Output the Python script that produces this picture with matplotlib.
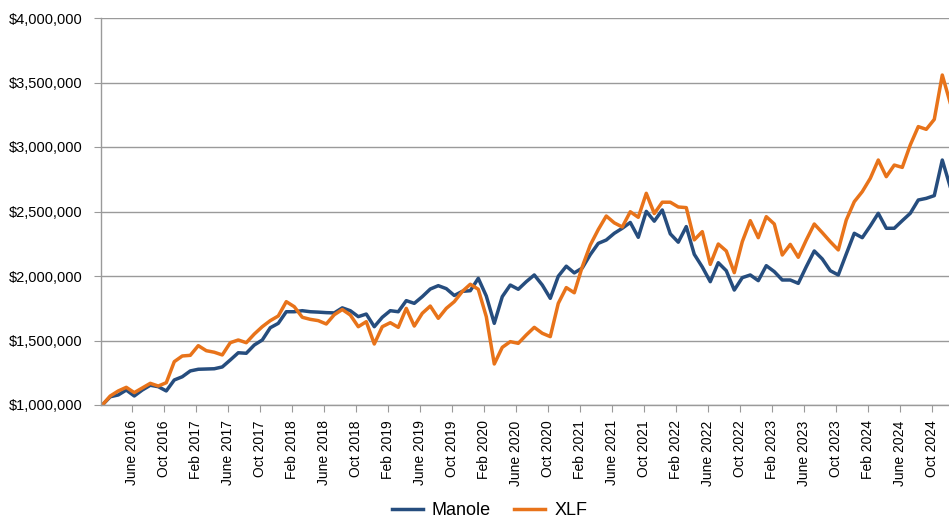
import numpy as np
import pandas as pd
import matplotlib
matplotlib.use('Agg')
import matplotlib.pyplot as plt
from matplotlib.ticker import FuncFormatter

# monthly values, Feb 2016 .. Dec 2024, in $ millions
months = pd.date_range('2016-02-01', '2024-12-01', freq='MS')

manole = [1.000, 1.064, 1.078, 1.116, 1.070, 1.116, 1.153, 1.142, 1.109, 1.194,
          1.219, 1.264, 1.277, 1.279, 1.281, 1.295, 1.349, 1.405, 1.401, 1.465,
          1.504, 1.599, 1.633, 1.723, 1.723, 1.731, 1.723, 1.720, 1.716, 1.714,
          1.753, 1.731, 1.685, 1.705, 1.607, 1.680, 1.731, 1.723, 1.809, 1.788,
          1.840, 1.899, 1.925, 1.902, 1.849, 1.881, 1.886, 1.982, 1.845, 1.633,
          1.840, 1.930, 1.897, 1.956, 2.008, 1.930, 1.827, 1.998, 2.076, 2.024,
          2.062, 2.166, 2.253, 2.279, 2.331, 2.370, 2.415, 2.300, 2.501, 2.425,
          2.512, 2.327, 2.262, 2.383, 2.168, 2.070, 1.956, 2.103, 2.041, 1.891,
          1.987, 2.008, 1.964, 2.080, 2.034, 1.969, 1.969, 1.943, 2.072, 2.194,
          2.132, 2.041, 2.008, 2.171, 2.331, 2.297, 2.388, 2.486, 2.370, 2.370,
          2.429, 2.486, 2.589, 2.602, 2.623, 2.899, 2.690]

xlf = [1.000, 1.070, 1.109, 1.137, 1.096, 1.132, 1.168, 1.147, 1.173, 1.336,
       1.380, 1.385, 1.460, 1.421, 1.409, 1.388, 1.483, 1.504, 1.483, 1.550,
       1.607, 1.654, 1.690, 1.801, 1.762, 1.680, 1.664, 1.654, 1.628, 1.700,
       1.740, 1.698, 1.607, 1.646, 1.473, 1.607, 1.638, 1.602, 1.749, 1.612,
       1.711, 1.767, 1.672, 1.749, 1.801, 1.880, 1.936, 1.897, 1.685, 1.318,
       1.447, 1.491, 1.478, 1.543, 1.602, 1.556, 1.530, 1.788, 1.910, 1.870,
       2.072, 2.240, 2.360, 2.465, 2.412, 2.380, 2.498, 2.455, 2.641, 2.484,
       2.572, 2.572, 2.535, 2.530, 2.280, 2.344, 2.090, 2.248, 2.194, 2.026,
       2.266, 2.429, 2.297, 2.460, 2.403, 2.163, 2.245, 2.145, 2.279, 2.403,
       2.336, 2.266, 2.202, 2.434, 2.576, 2.654, 2.757, 2.899, 2.770, 2.860,
       2.842, 3.016, 3.158, 3.137, 3.214, 3.558, 3.340]

tick_labels = ['June 2016', 'Oct 2016', 'Feb 2017', 'June 2017', 'Oct 2017',
               'Feb 2018', 'June 2018', 'Oct 2018', 'Feb 2019', 'June 2019',
               'Oct 2019', 'Feb 2020', 'June 2020', 'Oct 2020', 'Feb 2021',
               'June 2021', 'Oct 2021', 'Feb 2022', 'June 2022', 'Oct 2022',
               'Feb 2023', 'June 2023', 'Oct 2023', 'Feb 2024', 'June 2024',
               'Oct 2024']

BLUE = '#264D7E'
ORANGE = '#E8731A'
GRAY = '#9A9A9A'

plt.rcParams['font.family'] = ['Liberation Sans', 'DejaVu Sans']

fig = plt.figure(figsize=(9.49, 5.21), dpi=100)
ax = fig.add_axes([101 / 949, 116 / 521, 1 - 101 / 949, 387 / 521])

x = np.arange(len(months))
ax.plot(x, np.array(manole) * 1e6, color=BLUE, lw=2.5, label='Manole',
        solid_joinstyle='round')
ax.plot(x, np.array(xlf) * 1e6, color=ORANGE, lw=2.5, label='XLF',
        solid_joinstyle='round')

ax.set_xlim(-0.16, 105.84)
ax.set_ylim(1e6, 4e6)
ax.set_yticks(np.arange(1e6, 4.01e6, 5e5))
ax.yaxis.set_major_formatter(FuncFormatter(lambda v, p: '${:,.0f}'.format(v)))
ax.grid(axis='y', color=GRAY, lw=1)
ax.set_axisbelow(True)

# tick marks sit a bit ahead of each labelled month
tick_pos = [4 + 4 * k - 0.3 for k in range(len(tick_labels))]
ax.set_xticks(tick_pos)
ax.set_xticklabels(tick_labels, rotation=90, fontsize=10)
ax.tick_params(axis='x', length=5, color=GRAY, pad=6)
ax.tick_params(axis='y', length=5, color=GRAY, pad=8, labelsize=10.5)

for s in ['top', 'right']:
    ax.spines[s].set_visible(False)
for s in ['left', 'bottom']:
    ax.spines[s].set_color(GRAY)
    ax.spines[s].set_linewidth(1)

fig.legend(loc='lower center', bbox_to_anchor=(0.516, -0.028), ncol=2,
           frameon=False, fontsize=13, handlelength=1.7, handletextpad=0.5,
           columnspacing=1.3)

fig.savefig('out.png', dpi=100)
